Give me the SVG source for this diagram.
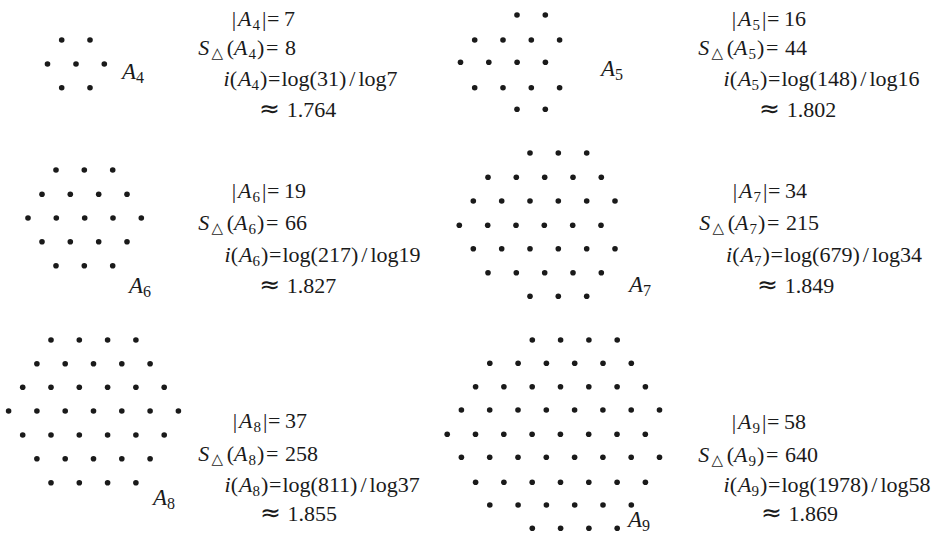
<svg xmlns="http://www.w3.org/2000/svg" width="947" height="533" viewBox="0 0 947 533">
<style>
.t{font-family:"Liberation Serif","Times New Roman",serif;font-size:22px;fill:#1a1a1a}
.i{font-style:italic}
.s{font-size:15px}
.lb{font-size:23px}
.lb .s{font-size:16px}
.tri{font-family:"DejaVu Sans",sans-serif;font-size:15px}
.ap{font-family:"DejaVu Sans",sans-serif;font-size:25px}
.d circle{fill:#1a1a1a}
</style>
<rect width="947" height="533" fill="#ffffff"/>
<g id="A4">
<g class="d">
<circle cx="61.7" cy="40" r="2.8"/><circle cx="90" cy="40" r="2.8"/>
<circle cx="47.5" cy="64" r="2.8"/><circle cx="76" cy="64" r="2.8"/><circle cx="104.3" cy="64" r="2.8"/>
<circle cx="61.7" cy="87.7" r="2.8"/><circle cx="90" cy="87.7" r="2.8"/>
</g>
<text class="t lb" x="122" y="79"><tspan class="i">A</tspan><tspan class="s" dy="4">4</tspan></text>
<text class="t" x="231.7" y="26">|<tspan class="i" dx="2">A</tspan><tspan class="s" dx="1" dy="4">4</tspan><tspan dx="2" dy="-4">|</tspan><tspan x="267">=</tspan><tspan x="284">7</tspan></text>
<text class="t" x="198.3" y="55"><tspan class="i">S</tspan><tspan class="tri" x="211.5" dy="3">△</tspan><tspan x="226.7" dy="-3">(</tspan><tspan class="i">A</tspan><tspan class="s" dx="1" dy="4">4</tspan><tspan dx="1" dy="-4">)</tspan><tspan x="266">=</tspan><tspan x="285">8</tspan></text>
<text class="t" x="223.5" y="86"><tspan class="i">i</tspan>(<tspan class="i" dx="1">A</tspan><tspan class="s" dy="4">4</tspan><tspan dx="1" dy="-4">)</tspan><tspan x="268">=</tspan><tspan x="281.5">log(31)</tspan><tspan dx="3">/</tspan><tspan dx="3">log7</tspan></text>
<text class="t" x="259" y="117"><tspan class="ap">≈</tspan><tspan x="286.7">1.764</tspan></text>
</g>
<g id="A5">
<g class="d">
<circle cx="517" cy="15" r="2.8"/><circle cx="545.3" cy="15" r="2.8"/>
<circle cx="474.7" cy="40" r="2.8"/><circle cx="503" cy="40" r="2.8"/><circle cx="531.3" cy="40" r="2.8"/><circle cx="559.6" cy="40" r="2.8"/>
<circle cx="460.5" cy="62.3" r="2.8"/><circle cx="488.8" cy="62.3" r="2.8"/><circle cx="517.1" cy="62.3" r="2.8"/><circle cx="545.4" cy="62.3" r="2.8"/>
<circle cx="474.7" cy="87.7" r="2.8"/><circle cx="503" cy="87.7" r="2.8"/><circle cx="531.3" cy="87.7" r="2.8"/><circle cx="559.6" cy="87.7" r="2.8"/>
<circle cx="517" cy="109.3" r="2.8"/><circle cx="545.3" cy="109.3" r="2.8"/>
</g>
<text class="t lb" x="601" y="76"><tspan class="i">A</tspan><tspan class="s" dy="4">5</tspan></text>
<text class="t" x="731.7" y="26">|<tspan class="i" dx="2">A</tspan><tspan class="s" dx="1" dy="4">5</tspan><tspan dx="2" dy="-4">|</tspan><tspan x="767">=</tspan><tspan x="784">16</tspan></text>
<text class="t" x="698.3" y="55"><tspan class="i">S</tspan><tspan class="tri" x="711.5" dy="3">△</tspan><tspan x="726.7" dy="-3">(</tspan><tspan class="i">A</tspan><tspan class="s" dx="1" dy="4">5</tspan><tspan dx="1" dy="-4">)</tspan><tspan x="766">=</tspan><tspan x="785">44</tspan></text>
<text class="t" x="723.5" y="86"><tspan class="i">i</tspan>(<tspan class="i" dx="1">A</tspan><tspan class="s" dy="4">5</tspan><tspan dx="1" dy="-4">)</tspan><tspan x="768">=</tspan><tspan x="781.5">log(148)</tspan><tspan dx="3">/</tspan><tspan dx="3">log16</tspan></text>
<text class="t" x="759" y="117"><tspan class="ap">≈</tspan><tspan x="786.7">1.802</tspan></text>
</g>
<g id="A6">
<g class="d">
<circle cx="56" cy="170" r="2.8"/><circle cx="84.3" cy="170" r="2.8"/><circle cx="112.7" cy="170" r="2.8"/>
<circle cx="42" cy="194.3" r="2.8"/><circle cx="70.3" cy="194.3" r="2.8"/><circle cx="98.7" cy="194.3" r="2.8"/><circle cx="127" cy="194.3" r="2.8"/>
<circle cx="28" cy="218" r="2.8"/><circle cx="56.3" cy="218" r="2.8"/><circle cx="84.7" cy="218" r="2.8"/><circle cx="113" cy="218" r="2.8"/><circle cx="141.3" cy="218" r="2.8"/>
<circle cx="42" cy="241.7" r="2.8"/><circle cx="70.3" cy="241.7" r="2.8"/><circle cx="98.7" cy="241.7" r="2.8"/><circle cx="127" cy="241.7" r="2.8"/>
<circle cx="56" cy="265.7" r="2.8"/><circle cx="84.3" cy="265.7" r="2.8"/><circle cx="112.7" cy="265.7" r="2.8"/>
</g>
<text class="t lb" x="129" y="293"><tspan class="i">A</tspan><tspan class="s" dy="4">6</tspan></text>
<text class="t" x="231.7" y="198">|<tspan class="i" dx="2">A</tspan><tspan class="s" dx="1" dy="4">6</tspan><tspan dx="2" dy="-4">|</tspan><tspan x="267">=</tspan><tspan x="284">19</tspan></text>
<text class="t" x="198.3" y="230"><tspan class="i">S</tspan><tspan class="tri" x="211.5" dy="3">△</tspan><tspan x="226.7" dy="-3">(</tspan><tspan class="i">A</tspan><tspan class="s" dx="1" dy="4">6</tspan><tspan dx="1" dy="-4">)</tspan><tspan x="266">=</tspan><tspan x="285">66</tspan></text>
<text class="t" x="224.5" y="261.5"><tspan class="i">i</tspan>(<tspan class="i" dx="1">A</tspan><tspan class="s" dy="4">6</tspan><tspan dx="1" dy="-4">)</tspan><tspan x="269">=</tspan><tspan x="282.5">log(217)</tspan><tspan dx="3">/</tspan><tspan dx="3">log19</tspan></text>
<text class="t" x="259.3" y="292.5"><tspan class="ap">≈</tspan><tspan x="286.7">1.827</tspan></text>
</g>
<g id="A7">
<g class="d">
<circle cx="530" cy="153" r="2.8"/><circle cx="558.3" cy="153" r="2.8"/><circle cx="586.7" cy="153" r="2.8"/>
<circle cx="488" cy="177.3" r="2.8"/><circle cx="516.3" cy="177.3" r="2.8"/><circle cx="544.7" cy="177.3" r="2.8"/><circle cx="573" cy="177.3" r="2.8"/><circle cx="601.3" cy="177.3" r="2.8"/>
<circle cx="473.3" cy="201" r="2.8"/><circle cx="501.7" cy="201" r="2.8"/><circle cx="530" cy="201" r="2.8"/><circle cx="558.3" cy="201" r="2.8"/><circle cx="586.7" cy="201" r="2.8"/><circle cx="615" cy="201" r="2.8"/>
<circle cx="459.3" cy="225.3" r="2.8"/><circle cx="487.7" cy="225.3" r="2.8"/><circle cx="516" cy="225.3" r="2.8"/><circle cx="544.3" cy="225.3" r="2.8"/><circle cx="572.7" cy="225.3" r="2.8"/><circle cx="601" cy="225.3" r="2.8"/>
<circle cx="473.3" cy="248.7" r="2.8"/><circle cx="501.7" cy="248.7" r="2.8"/><circle cx="530" cy="248.7" r="2.8"/><circle cx="558.3" cy="248.7" r="2.8"/><circle cx="586.7" cy="248.7" r="2.8"/><circle cx="615" cy="248.7" r="2.8"/>
<circle cx="488" cy="272.7" r="2.8"/><circle cx="516.3" cy="272.7" r="2.8"/><circle cx="544.7" cy="272.7" r="2.8"/><circle cx="573" cy="272.7" r="2.8"/><circle cx="601.3" cy="272.7" r="2.8"/>
<circle cx="530" cy="296.3" r="2.8"/><circle cx="558.3" cy="296.3" r="2.8"/><circle cx="586.7" cy="296.3" r="2.8"/>
</g>
<text class="t lb" x="629" y="292"><tspan class="i">A</tspan><tspan class="s" dy="4">7</tspan></text>
<text class="t" x="732.7" y="198">|<tspan class="i" dx="2">A</tspan><tspan class="s" dx="1" dy="4">7</tspan><tspan dx="2" dy="-4">|</tspan><tspan x="768">=</tspan><tspan x="785">34</tspan></text>
<text class="t" x="699.3" y="230"><tspan class="i">S</tspan><tspan class="tri" x="712.5" dy="3">△</tspan><tspan x="727.7" dy="-3">(</tspan><tspan class="i">A</tspan><tspan class="s" dx="1" dy="4">7</tspan><tspan dx="1" dy="-4">)</tspan><tspan x="767">=</tspan><tspan x="786">215</tspan></text>
<text class="t" x="726" y="261.5"><tspan class="i">i</tspan>(<tspan class="i" dx="1">A</tspan><tspan class="s" dy="4">7</tspan><tspan dx="1" dy="-4">)</tspan><tspan x="770.5">=</tspan><tspan x="784">log(679)</tspan><tspan dx="3">/</tspan><tspan dx="3">log34</tspan></text>
<text class="t" x="757" y="292.5"><tspan class="ap">≈</tspan><tspan x="784.7">1.849</tspan></text>
</g>
<g id="A8">
<g class="d">
<circle cx="51" cy="340" r="2.8"/><circle cx="79.3" cy="340" r="2.8"/><circle cx="107.6" cy="340" r="2.8"/><circle cx="135.9" cy="340" r="2.8"/>
<circle cx="36.9" cy="363.7" r="2.8"/><circle cx="65.2" cy="363.7" r="2.8"/><circle cx="93.5" cy="363.7" r="2.8"/><circle cx="121.8" cy="363.7" r="2.8"/><circle cx="150.1" cy="363.7" r="2.8"/>
<circle cx="22.7" cy="387.3" r="2.8"/><circle cx="51" cy="387.3" r="2.8"/><circle cx="79.3" cy="387.3" r="2.8"/><circle cx="107.6" cy="387.3" r="2.8"/><circle cx="135.9" cy="387.3" r="2.8"/><circle cx="164.2" cy="387.3" r="2.8"/>
<circle cx="8.6" cy="411" r="2.8"/><circle cx="36.9" cy="411" r="2.8"/><circle cx="65.2" cy="411" r="2.8"/><circle cx="93.5" cy="411" r="2.8"/><circle cx="121.8" cy="411" r="2.8"/><circle cx="150.1" cy="411" r="2.8"/><circle cx="178.4" cy="411" r="2.8"/>
<circle cx="22.7" cy="435" r="2.8"/><circle cx="51" cy="435" r="2.8"/><circle cx="79.3" cy="435" r="2.8"/><circle cx="107.6" cy="435" r="2.8"/><circle cx="135.9" cy="435" r="2.8"/><circle cx="164.2" cy="435" r="2.8"/>
<circle cx="36.9" cy="458.7" r="2.8"/><circle cx="65.2" cy="458.7" r="2.8"/><circle cx="93.5" cy="458.7" r="2.8"/><circle cx="121.8" cy="458.7" r="2.8"/><circle cx="150.1" cy="458.7" r="2.8"/>
<circle cx="51" cy="482.7" r="2.8"/><circle cx="79.3" cy="482.7" r="2.8"/><circle cx="107.6" cy="482.7" r="2.8"/><circle cx="135.9" cy="482.7" r="2.8"/>
</g>
<text class="t lb" x="153" y="505"><tspan class="i">A</tspan><tspan class="s" dy="4">8</tspan></text>
<text class="t" x="232.7" y="428">|<tspan class="i" dx="2">A</tspan><tspan class="s" dx="1" dy="4">8</tspan><tspan dx="2" dy="-4">|</tspan><tspan x="268">=</tspan><tspan x="285">37</tspan></text>
<text class="t" x="198.3" y="460.5"><tspan class="i">S</tspan><tspan class="tri" x="211.5" dy="3">△</tspan><tspan x="226.7" dy="-3">(</tspan><tspan class="i">A</tspan><tspan class="s" dx="1" dy="4">8</tspan><tspan dx="1" dy="-4">)</tspan><tspan x="266">=</tspan><tspan x="285">258</tspan></text>
<text class="t" x="224.5" y="491.5"><tspan class="i">i</tspan>(<tspan class="i" dx="1">A</tspan><tspan class="s" dy="4">8</tspan><tspan dx="1" dy="-4">)</tspan><tspan x="269">=</tspan><tspan x="282.5">log(811)</tspan><tspan dx="3">/</tspan><tspan dx="3">log37</tspan></text>
<text class="t" x="260" y="521"><tspan class="ap">≈</tspan><tspan x="287.4">1.855</tspan></text>
</g>
<g id="A9">
<g class="d">
<circle cx="532.3" cy="340" r="2.8"/><circle cx="560.6" cy="340" r="2.8"/><circle cx="588.9" cy="340" r="2.8"/><circle cx="617.2" cy="340" r="2.8"/>
<circle cx="489.8" cy="363.3" r="2.8"/><circle cx="518.1" cy="363.3" r="2.8"/><circle cx="546.4" cy="363.3" r="2.8"/><circle cx="574.7" cy="363.3" r="2.8"/><circle cx="603" cy="363.3" r="2.8"/><circle cx="631.3" cy="363.3" r="2.8"/>
<circle cx="475.6" cy="386.7" r="2.8"/><circle cx="503.9" cy="386.7" r="2.8"/><circle cx="532.2" cy="386.7" r="2.8"/><circle cx="560.5" cy="386.7" r="2.8"/><circle cx="588.8" cy="386.7" r="2.8"/><circle cx="617.1" cy="386.7" r="2.8"/><circle cx="645.4" cy="386.7" r="2.8"/>
<circle cx="461.4" cy="410" r="2.8"/><circle cx="489.7" cy="410" r="2.8"/><circle cx="518" cy="410" r="2.8"/><circle cx="546.3" cy="410" r="2.8"/><circle cx="574.6" cy="410" r="2.8"/><circle cx="602.9" cy="410" r="2.8"/><circle cx="631.2" cy="410" r="2.8"/><circle cx="659.5" cy="410" r="2.8"/>
<circle cx="447.2" cy="434.3" r="2.8"/><circle cx="475.5" cy="434.3" r="2.8"/><circle cx="503.8" cy="434.3" r="2.8"/><circle cx="532.1" cy="434.3" r="2.8"/><circle cx="560.4" cy="434.3" r="2.8"/><circle cx="588.7" cy="434.3" r="2.8"/><circle cx="617" cy="434.3" r="2.8"/><circle cx="645.3" cy="434.3" r="2.8"/>
<circle cx="461.4" cy="457.3" r="2.8"/><circle cx="489.7" cy="457.3" r="2.8"/><circle cx="518" cy="457.3" r="2.8"/><circle cx="546.3" cy="457.3" r="2.8"/><circle cx="574.6" cy="457.3" r="2.8"/><circle cx="602.9" cy="457.3" r="2.8"/><circle cx="631.2" cy="457.3" r="2.8"/><circle cx="659.5" cy="457.3" r="2.8"/>
<circle cx="475.6" cy="482.3" r="2.8"/><circle cx="503.9" cy="482.3" r="2.8"/><circle cx="532.2" cy="482.3" r="2.8"/><circle cx="560.5" cy="482.3" r="2.8"/><circle cx="588.8" cy="482.3" r="2.8"/><circle cx="617.1" cy="482.3" r="2.8"/><circle cx="645.4" cy="482.3" r="2.8"/>
<circle cx="489.8" cy="505" r="2.8"/><circle cx="518.1" cy="505" r="2.8"/><circle cx="546.4" cy="505" r="2.8"/><circle cx="574.7" cy="505" r="2.8"/><circle cx="603" cy="505" r="2.8"/><circle cx="631.3" cy="505" r="2.8"/>
<circle cx="532.3" cy="528.3" r="2.8"/><circle cx="560.6" cy="528.3" r="2.8"/><circle cx="588.9" cy="528.3" r="2.8"/><circle cx="617.2" cy="528.3" r="2.8"/>
</g>
<text class="t lb" x="628" y="527"><tspan class="i">A</tspan><tspan class="s" dy="4">9</tspan></text>
<text class="t" x="731.7" y="429">|<tspan class="i" dx="2">A</tspan><tspan class="s" dx="1" dy="4">9</tspan><tspan dx="2" dy="-4">|</tspan><tspan x="767">=</tspan><tspan x="784">58</tspan></text>
<text class="t" x="698.3" y="461.5"><tspan class="i">S</tspan><tspan class="tri" x="711.5" dy="3">△</tspan><tspan x="726.7" dy="-3">(</tspan><tspan class="i">A</tspan><tspan class="s" dx="1" dy="4">9</tspan><tspan dx="1" dy="-4">)</tspan><tspan x="766">=</tspan><tspan x="785">640</tspan></text>
<text class="t" x="723.5" y="492"><tspan class="i">i</tspan>(<tspan class="i" dx="1">A</tspan><tspan class="s" dy="4">9</tspan><tspan dx="1" dy="-4">)</tspan><tspan x="768">=</tspan><tspan x="781.5">log(1978)</tspan><tspan dx="3">/</tspan><tspan dx="3">log58</tspan></text>
<text class="t" x="761" y="521"><tspan class="ap">≈</tspan><tspan x="788.4">1.869</tspan></text>
</g>
</svg>
